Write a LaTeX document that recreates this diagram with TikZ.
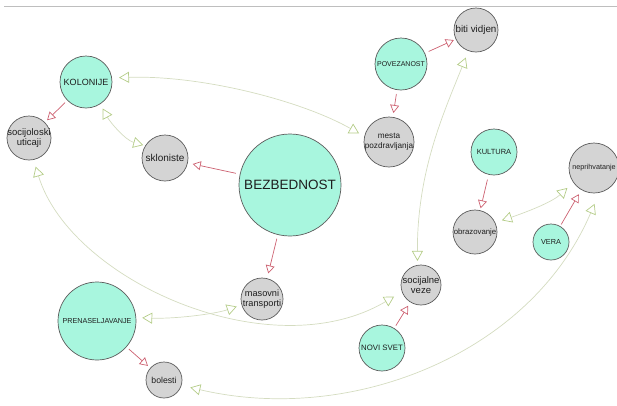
\documentclass[tikz,border=0pt]{standalone}
\usepackage{fontspec}
\setmainfont{Liberation Sans}
\usetikzlibrary{arrows.meta}

\definecolor{mintfill}{RGB}{168,246,222}
\definecolor{greyfill}{RGB}{212,212,212}
\definecolor{rimcol}{RGB}{92,92,92}
\definecolor{inkcol}{RGB}{30,30,30}
\definecolor{redlink}{RGB}{204,96,112}
\definecolor{greenlink}{RGB}{212,220,192}
\definecolor{greentip}{RGB}{180,204,136}
\definecolor{framecol}{RGB}{190,190,190}

\tikzset{
  fsz/.style={font=\fontsize{#1}{10}\selectfont},
  topic/.style={circle, draw=rimcol, fill=mintfill, line width=0.7pt,
    inner sep=-15pt, text=inkcol, align=center},
  item/.style={circle, draw=rimcol, fill=greyfill, line width=0.7pt,
    inner sep=-15pt, text=inkcol, align=center},
  cause/.style={draw=redlink, line width=0.7pt,
    -{Triangle[open,length=8pt,width=9pt]},
    shorten <=3pt, shorten >=3pt},
  assoc/.style={draw=greenlink, line width=0.7pt,
    {Triangle[open,length=10pt,width=11pt,color=greentip]}-{Triangle[open,length=10pt,width=11pt,color=greentip]}}
}

\begin{document}
\begin{tikzpicture}[x=1pt,y=-1pt]
\useasboundingbox (0,0) rectangle (617,405);

% top rule
\draw[framecol, line width=0.8pt] (4,6) -- (617,6);

% topic circles
\node[topic, minimum size=102pt, fsz=13.5] (bez) at (290,185) {BEZBEDNOST};
\node[topic, minimum size=52pt, fsz=9]   (kol) at (86,82)   {KOLONIJE};
\node[topic, minimum size=52pt, fsz=7]   (pov) at (401,64)  {POVEZANOST};
\node[topic, minimum size=46pt, fsz=7.5] (kul) at (494,152) {KULTURA};
\node[topic, minimum size=36pt, fsz=7.3] (ver) at (551,242) {VERA};
\node[topic, minimum size=46pt, fsz=7.8] (nov) at (382,348) {NOVI SVET};
\node[topic, minimum size=78pt, fsz=7.2] (pre) at (97,321)  {PRENASELJAVANJE};

% item circles
\node[item, minimum size=44pt, fsz=9.5] (soc) at (29,138)  {socijoloski\\uticaji};
\node[item, minimum size=46pt, fsz=10]  (skl) at (165,158) {skloniste};
\node[item, minimum size=44pt, fsz=9.8] (bit) at (476,30)  {biti vidjen};
\node[item, minimum size=50pt, fsz=8.2] (mes) at (389,142) {mesta\\pozdravljanja};
\node[item, minimum size=50pt, fsz=7.2] (nep) at (594,168) {neprihvatanje};
\node[item, minimum size=44pt, fsz=7.8] (obr) at (475,232) {obrazovanje};
\node[item, minimum size=40pt, fsz=9.5] (sve) at (421,285) {socijalne\\veze};
\node[item, minimum size=42pt, fsz=9.2] (mas) at (262,299) {masovni\\transporti};
\node[item, minimum size=36pt, fsz=8.7] (bol) at (164,380) {bolesti};

% causal links
\draw[cause] (kol) -- (soc);
\draw[cause, shorten <=4pt, shorten >=5pt] (bez) -- (skl);
\draw[cause, shorten <=4pt, shorten >=5pt] (bez) -- (mas);
\draw[cause, shorten <=4pt, shorten >=2pt] (pov) -- (bit);
\draw[cause, shorten <=4pt, shorten >=4pt] (pov) -- (mes);
\draw[cause, shorten <=5pt, shorten >=2pt] (kul) -- (obr);
\draw[cause, shorten <=2pt, shorten >=5pt] (ver) -- (nep);
\draw[cause, shorten <=3pt, shorten >=4pt] (nov) -- (sve);
\draw[cause] (pre) -- (bol);

% associations
\draw[assoc, shorten <=7pt, shorten >=6pt]
  (kol.9) .. controls (200,75) and (300,100) .. (mes.167);
\draw[assoc, shorten <=5pt, shorten >=2pt]
  (kol.-57) .. controls (110,122) and (125,140) .. (skl.148);
\draw[assoc, shorten <=7pt, shorten >=9pt]
  (soc.-78) .. controls (70,280) and (270,370) .. (sve.200);
\draw[assoc, shorten <=7pt, shorten >=4pt]
  (bit.-110) .. controls (445,110) and (417,170) .. (sve.100);
\draw[assoc, shorten <=6pt, shorten >=5pt]
  (pre.5) .. controls (175,319) and (215,314) .. (mas.196);
\draw[assoc, shorten <=7pt, shorten >=8pt]
  (obr.25) .. controls (515,216) and (550,204) .. (nep.215);
\draw[assoc, shorten <=9pt, shorten >=12pt]
  (bol.-17) .. controls (350,425) and (530,355) .. (nep.-78);
\end{tikzpicture}
\end{document}
